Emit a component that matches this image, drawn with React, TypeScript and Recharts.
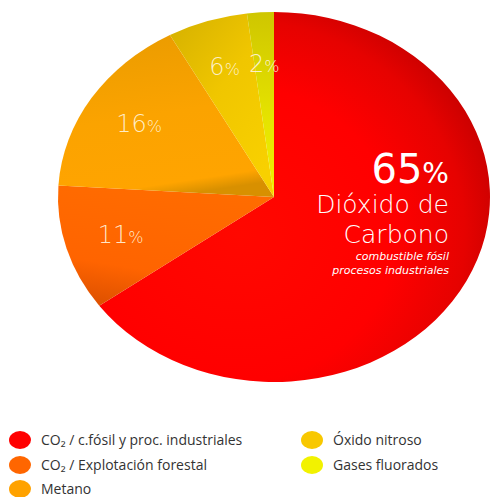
import React from 'react';
import { PieChart, Pie, Cell, Legend } from 'recharts';

const names = [
  'CO₂ / c.fósil y proc. industriales',
  'CO₂ / Explotación forestal',
  'Metano',
  'Óxido nitroso',
  'Gases fluorados',
];
const values = [65, 11, 16, 6, 2];
const legendColors = ['#ff0000', '#ff6600', '#ffa200', '#f8c800', '#f2f200'];
const gradIds = ['gRed', 'gOrange', 'gMetano', 'gOxido', 'gGases'];
const bigLabelLines = ['Dióxido de', 'Carbono'];
const subLabelLines = ['combustible fósil', 'procesos industriales'];

const data = names.map((name, i) => ({ name, value: values[i] }));

const RAD = Math.PI / 180;
const RX_RATIO = 216 / 185;
const LABEL_FONT = "'DejaVu Sans', sans-serif";

function EllipseSector(props: any) {
  const { cx, cy, startAngle, endAngle, outerRadius, fill } = props;
  const ry = outerRadius;
  const rx = outerRadius * RX_RATIO;
  const pt = (a: number) => [cx + rx * Math.cos(-a * RAD), cy + ry * Math.sin(-a * RAD)];
  const [x1, y1] = pt(startAngle);
  const [x2, y2] = pt(endAngle);
  const large = Math.abs(startAngle - endAngle) > 180 ? 1 : 0;
  const sweep = startAngle > endAngle ? 1 : 0;
  const d = `M${cx},${cy} L${x1},${y1} A${rx},${ry} 0 ${large} ${sweep} ${x2},${y2} Z`;
  return <path d={d} fill={fill} stroke="none" />;
}

function renderLabel(props: any) {
  const { cx, cy, midAngle, outerRadius, index, value } = props;
  const ry = outerRadius;
  const rx = outerRadius * RX_RATIO;
  if (index === 0) {
    const x = cx + rx * 0.81;
    return (
      <g fontFamily={LABEL_FONT} fill="#ffffff" textAnchor="end">
        <text x={x} y={cy - 14}>
          <tspan fontSize={40} fontWeight={400}>{value}</tspan>
          <tspan fontSize={28} fontWeight={400}>%</tspan>
        </text>
        <text x={x} y={cy + 16} fontSize={25} fontWeight={200}>{bigLabelLines[0]}</text>
        <text x={x} y={cy + 46} fontSize={25} fontWeight={200}>{bigLabelLines[1]}</text>
        <text x={x} y={cy + 63} fontSize={11} fontStyle="italic" fontWeight={400}>{subLabelLines[0]}</text>
        <text x={x} y={cy + 77} fontSize={11} fontStyle="italic" fontWeight={400}>{subLabelLines[1]}</text>
      </g>
    );
  }
  const f = index === 4 ? 0.72 : 0.74;
  const x = cx + rx * f * Math.cos(-midAngle * RAD);
  const y = cy + ry * f * Math.sin(-midAngle * RAD);
  return (
    <text
      x={x}
      y={y + 8}
      textAnchor="middle"
      fontFamily={LABEL_FONT}
      fontWeight={200}
      fill="#fff4dc"
      fillOpacity={0.92}
    >
      <tspan fontSize={24}>{value}</tspan>
      <tspan fontSize={16}>%</tspan>
    </text>
  );
}

function LegendContent(props: any) {
  const payload = [...(props.payload || [])].sort(
    (a: any, b: any) => names.indexOf(a.value) - names.indexOf(b.value)
  );
  return (
    <div style={{ position: 'relative', width: 492, height: 64 }}>
      {payload.map((entry: any) => {
        const i = names.indexOf(entry.value);
        const col = i < 3 ? 0 : 1;
        const row = i < 3 ? i : i - 3;
        return (
          <div
            key={entry.value}
            style={{
              position: 'absolute',
              left: col === 0 ? 9 : 301,
              top: row * 24.5,
              display: 'flex',
              alignItems: 'center',
              height: 20,
              fontFamily: "'Open Sans', sans-serif",
              fontSize: 14,
              lineHeight: '18px',
              color: '#333333',
              whiteSpace: 'nowrap',
            }}
          >
            <span
              style={{
                display: 'inline-block',
                width: 22,
                height: 18,
                borderRadius: '50%',
                background: legendColors[i],
                marginRight: 10,
              }}
            />
            <span>{entry.value}</span>
          </div>
        );
      })}
    </div>
  );
}

export default function App() {
  return (
    <div style={{ position: 'absolute', left: 0, top: 0, width: 492, height: 497, background: '#ffffff' }}>
      <PieChart width={492} height={497} margin={{ top: 0, right: 0, bottom: 0, left: 0 }}>
        <defs>
          <radialGradient id="gRed" cx="0.36" cy="0.6" r="0.72">
            <stop offset="0" stopColor="#ff0800" />
            <stop offset="0.55" stopColor="#ff0000" />
            <stop offset="0.8" stopColor="#e60200" />
            <stop offset="1" stopColor="#bd0000" />
          </radialGradient>
          <linearGradient id="gOrange" x1="0.6" y1="0" x2="0.3" y2="1">
            <stop offset="0" stopColor="#ff6c00" />
            <stop offset="0.7" stopColor="#ff6400" />
            <stop offset="1" stopColor="#e05200" />
          </linearGradient>
          <linearGradient id="gMetano" x1="0.3" y1="0" x2="0.5" y2="1">
            <stop offset="0" stopColor="#eb9c00" />
            <stop offset="0.5" stopColor="#fba300" />
            <stop offset="0.92" stopColor="#ffa400" />
            <stop offset="1" stopColor="#d89000" />
          </linearGradient>
          <linearGradient id="gOxido" x1="0" y1="0" x2="0.7" y2="1">
            <stop offset="0" stopColor="#d4b000" />
            <stop offset="0.5" stopColor="#f0c600" />
            <stop offset="1" stopColor="#f8d000" />
          </linearGradient>
          <linearGradient id="gGases" x1="0.5" y1="0" x2="0.5" y2="1">
            <stop offset="0" stopColor="#cfc600" />
            <stop offset="0.6" stopColor="#e6e400" />
            <stop offset="1" stopColor="#f0f000" />
          </linearGradient>
        </defs>
        <Pie
          data={data}
          dataKey="value"
          nameKey="name"
          cx={274}
          cy={197}
          outerRadius={185}
          startAngle={90}
          endAngle={-270}
          stroke="none"
          shape={EllipseSector}
          activeShape={EllipseSector}
          label={renderLabel}
          labelLine={false}
          isAnimationActive={false}
        >
          {data.map((d, i) => (
            <Cell key={d.name} fill={`url(#${gradIds[i]})`} />
          ))}
        </Pie>
        <Legend
          content={<LegendContent />}
          wrapperStyle={{ position: 'absolute', left: 0, top: 430, width: 492 }}
        />
      </PieChart>
    </div>
  );
}
